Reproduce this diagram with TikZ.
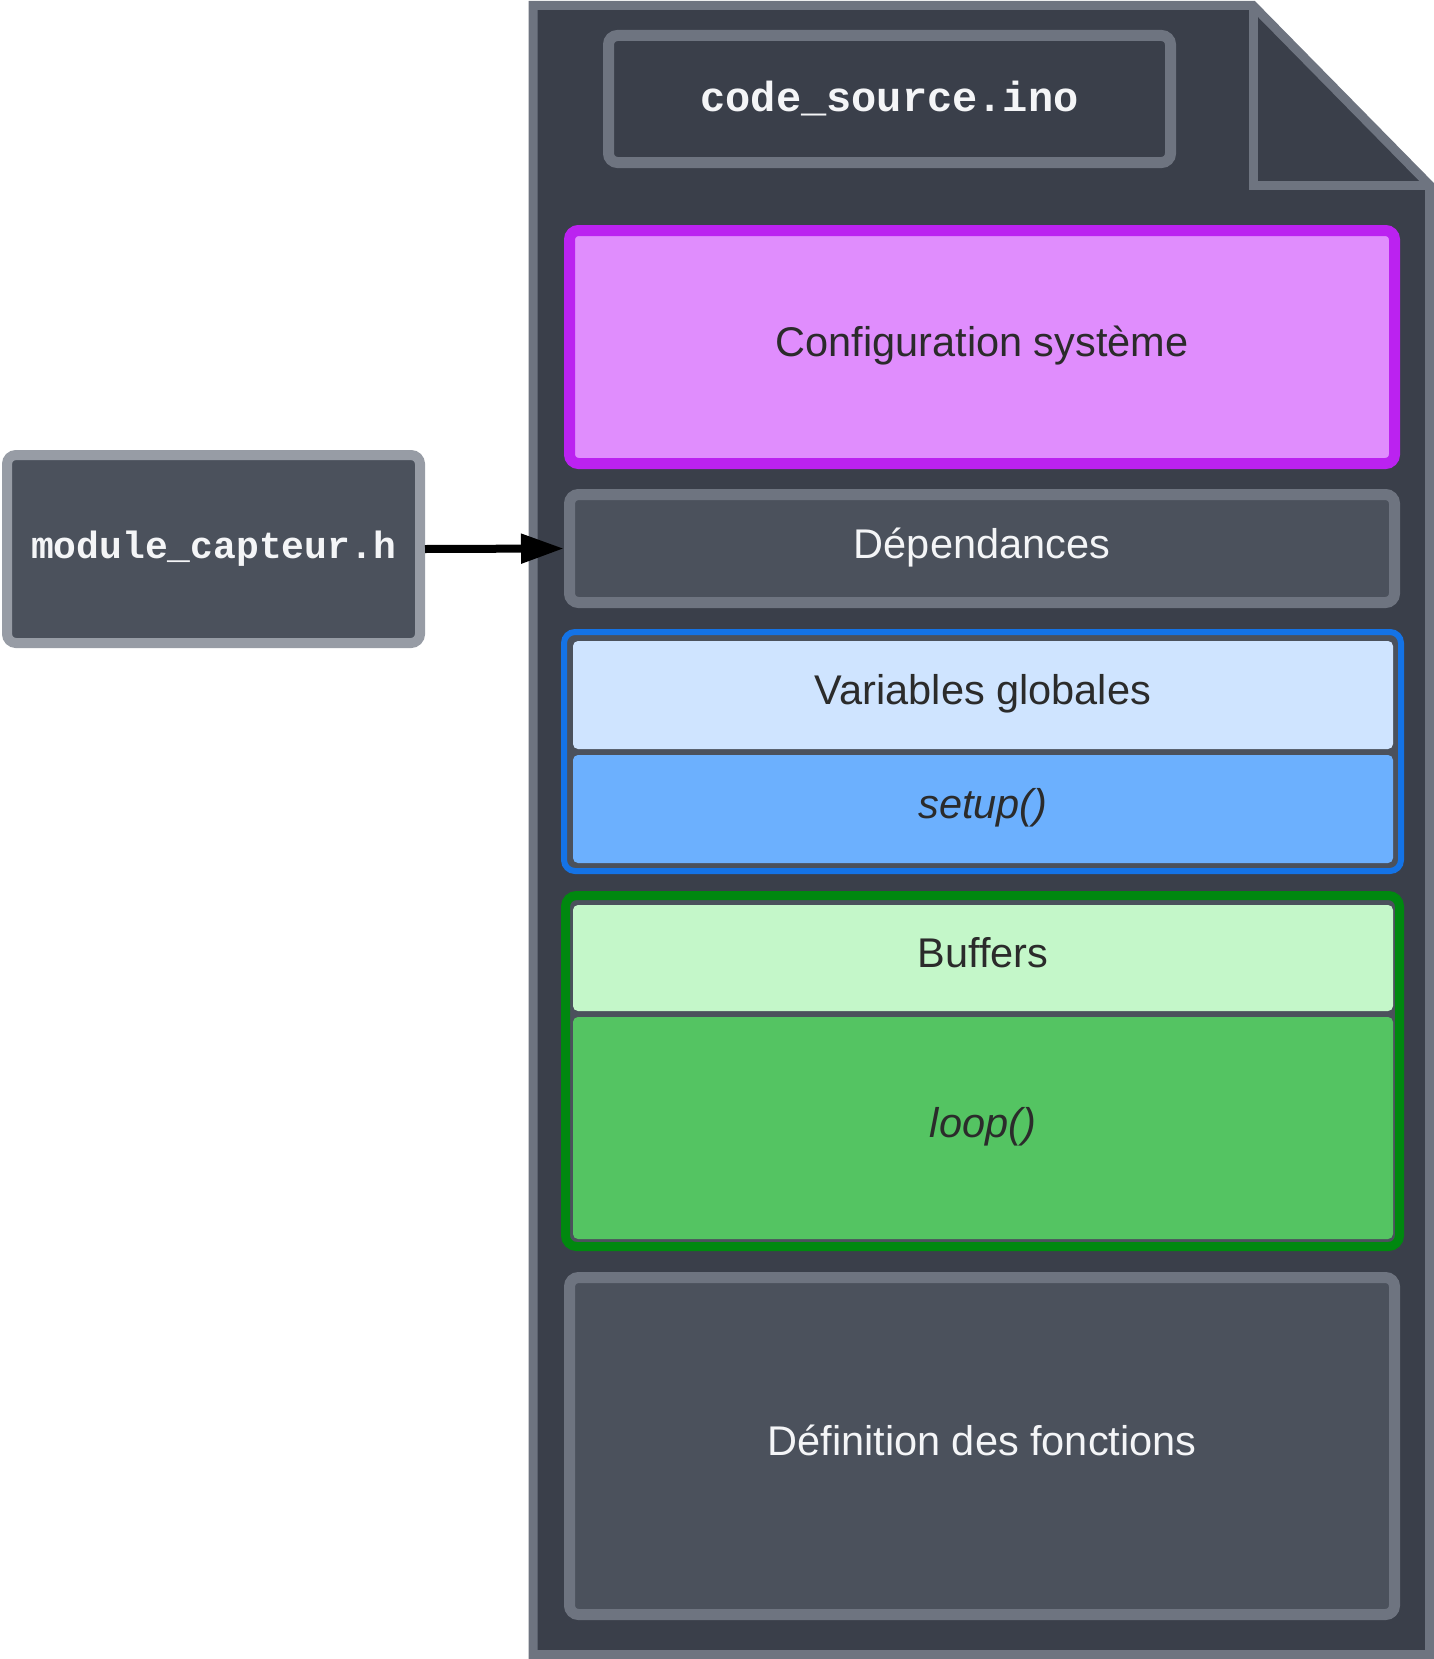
\documentclass[tikz,border=0pt]{standalone}
\usepackage{fontspec}
\setmainfont{Liberation Sans}
\newfontfamily\monob{Liberation Mono}[BoldFont={Liberation Mono Bold}]
\usetikzlibrary{arrows.meta}
\definecolor{docfill}{HTML}{3A3F4A}
\definecolor{docline}{HTML}{6E7480}
\definecolor{boxfill}{HTML}{4B515C}
\definecolor{modline}{HTML}{979CA5}
\definecolor{purpline}{HTML}{BB22F0}
\definecolor{purpfill}{HTML}{E08DFD}
\definecolor{blueline}{HTML}{1473E6}
\definecolor{bluelight}{HTML}{CFE4FF}
\definecolor{bluemid}{HTML}{6CB0FE}
\definecolor{greenline}{HTML}{00880F}
\definecolor{greenlight}{HTML}{C4F7C9}
\definecolor{greenmid}{HTML}{54C462}
\definecolor{darktext}{HTML}{2B2B2B}
\definecolor{whitetext}{HTML}{F4F5F7}
\tikzset{
  blk/.style={rectangle, rounded corners=9pt, inner sep=0pt, align=center},
  sanslbl/.style={font=\fontsize{41.5}{50}\selectfont, text height=29pt, text depth=10pt},
  monolbl/.style={font=\monob\bfseries\fontsize{42}{50}\selectfont, text=whitetext},
  grp/.style={blk, rounded corners=11pt, fill=boxfill},
  inner/.style={blk, rounded corners=5pt, sanslbl, text=darktext},
}
\begin{document}
\begin{tikzpicture}[x=1pt,y=-1pt]
\useasboundingbox (0,0) rectangle (1434,1659);
% document
\draw[line width=9pt, draw=docline, fill=docfill, line join=miter]
  (533,5.5) -- (1253,5.5) -- (1429.5,185) -- (1429.5,1654.5) -- (533,1654.5) -- cycle;
\draw[line width=9pt, draw=docline] (1253,5.5) -- (1253,185) -- (1429.5,185);
% title
\node[blk, draw=docline, fill=docfill, line width=11pt, minimum width=562pt, minimum height=127pt, monolbl] (title) at (889.5,99) {code\_source.ino};
% config
\node[blk, draw=purpline, fill=purpfill, line width=11pt, minimum width=825pt, minimum height=233pt, sanslbl, text=darktext] (conf) at (982,347) {Configuration système};
% dependances
\node[blk, draw=docline, fill=boxfill, line width=11pt, minimum width=825pt, minimum height=108pt, sanslbl, text=whitetext] (dep) at (982,548.5) {Dépendances};
% blue group
\node[grp, draw=blueline, line width=6pt, minimum width=837pt, minimum height=239pt] (bgrp) at (982.5,751.5) {};
\node[inner, fill=bluelight, minimum width=820pt, minimum height=108pt] (vars) at (983,695) {Variables globales};
\node[inner, fill=bluemid, minimum width=820pt, minimum height=108pt] (setup) at (983,809) {\itshape setup()};
% green group
\node[grp, draw=greenline, line width=9pt, minimum width=834pt, minimum height=351pt] (ggrp) at (982.5,1071) {};
\node[inner, fill=greenlight, minimum width=820pt, minimum height=106pt] (buf) at (983,958) {Buffers};
\node[inner, fill=greenmid, minimum width=820pt, minimum height=222pt] (loop) at (983,1128) {\itshape loop()};
% definitions
\node[blk, draw=docline, fill=boxfill, line width=11pt, minimum width=825pt, minimum height=337pt, sanslbl, text=whitetext] (def) at (982,1446) {Définition des fonctions};
% module
\node[blk, draw=modline, fill=boxfill, line width=10pt, minimum width=413pt, minimum height=188pt, monolbl, font=\monob\bfseries\fontsize{38}{46}\selectfont] (mod) at (213.5,549) {module\_capteur.h};
% arrow
\draw[line width=8pt, -{Triangle[length=43pt,width=28pt]}] (mod.east) -- (dep.west);
\end{tikzpicture}
\end{document}
